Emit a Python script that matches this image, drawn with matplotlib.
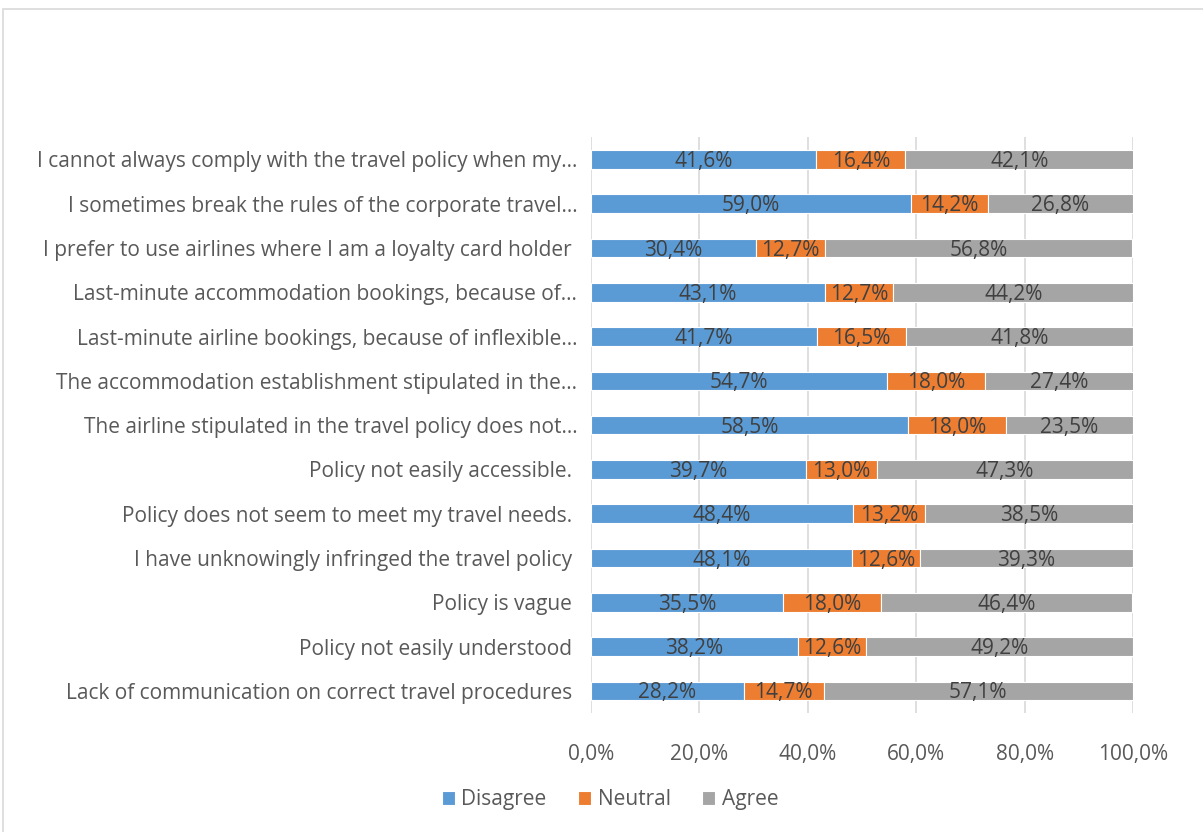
import matplotlib
matplotlib.use("Agg")
import matplotlib.pyplot as plt
from matplotlib.patches import Rectangle
import numpy as np

plt.rcParams['font.family'] = ['Open Sans', 'DejaVu Sans']

# survey statements, listed top to bottom as they appear
statements = [
    "I cannot always comply with the travel policy when my\u2026",
    "I sometimes break the rules of the corporate travel\u2026",
    "I prefer to use airlines where I am a loyalty card holder ",
    "Last-minute accommodation bookings, because of\u2026",
    "Last-minute airline bookings, because of inflexible\u2026",
    "The accommodation establishment stipulated in the\u2026",
    "The airline stipulated in the travel policy does not\u2026",
    "Policy not easily accessible. ",
    "Policy does not seem to meet my travel needs. ",
    "I have unknowingly infringed the travel policy ",
    "Policy is vague ",
    "Policy not easily understood ",
    "Lack of communication on correct travel procedures ",
]
disagree = [41.6, 59.0, 30.4, 43.1, 41.7, 54.7, 58.5, 39.7, 48.4, 48.1, 35.5, 38.2, 28.2]
neutral = [16.4, 14.2, 12.7, 12.7, 16.5, 18.0, 18.0, 13.0, 13.2, 12.6, 18.0, 12.6, 14.7]
agree = [42.1, 26.8, 56.8, 44.2, 41.8, 27.4, 23.5, 47.3, 38.5, 39.3, 46.4, 49.2, 57.1]

series = [("Disagree", disagree, "#5B9BD5"),
          ("Neutral", neutral, "#ED7D31"),
          ("Agree", agree, "#A5A5A5")]

label_col = "#404040"
tick_col = "#595959"
fs = 15
fig = plt.figure(figsize=(12.03, 8.32), dpi=100)
ax = fig.add_axes([0.4913, 0.143, 0.4505, 0.692])

y = np.arange(len(statements))[::-1]
left = np.zeros(len(statements))
for name, vals, col in series:
    vals = np.array(vals)
    ax.barh(y, vals, left=left, height=0.42, color=col,
            edgecolor="white", linewidth=0.8, label=name, zorder=3)
    for yi, l, v in zip(y, left, vals):
        ax.annotate(f"{v:.1f}%".replace(".", ","), (l + v / 2, yi),
                    xytext=(0, -1.5), textcoords="offset points",
                    ha="center", va="center", fontsize=fs, color=label_col,
                    zorder=4)
    left += vals

ax.set_xlim(0, 100)
ax.set_ylim(-0.5, len(statements) - 0.5)
ax.set_yticks(y)
ax.set_yticklabels(statements, fontsize=fs, color=tick_col)
ax.set_xticks(np.arange(0, 101, 20))
ax.set_xticklabels([f"{t:.1f}%".replace(".", ",") for t in range(0, 101, 20)],
                   fontsize=fs, color=tick_col)
ax.tick_params(axis="y", length=0, pad=10)
ax.tick_params(axis="x", length=0, pad=22)
ax.grid(axis="x", color="#D9D9D9", linewidth=1.2, zorder=0)
for s in ax.spines.values():
    s.set_visible(False)

leg = fig.legend(loc="center", bbox_to_anchor=(0.507, 0.039), ncol=3,
                 frameon=False, fontsize=fs, handlelength=0.65, handleheight=0.65,
                 handletextpad=0.3, columnspacing=1.5)
for t in leg.get_texts():
    t.set_color(tick_col)

# outer chart border
fig.patches.append(Rectangle((3 / 1203, -0.1), 1.2, 1.1 - 9 / 832,
                             transform=fig.transFigure, fill=False,
                             edgecolor="#D9D9D9", linewidth=1.2))

fig.savefig("out.png", dpi=100)
